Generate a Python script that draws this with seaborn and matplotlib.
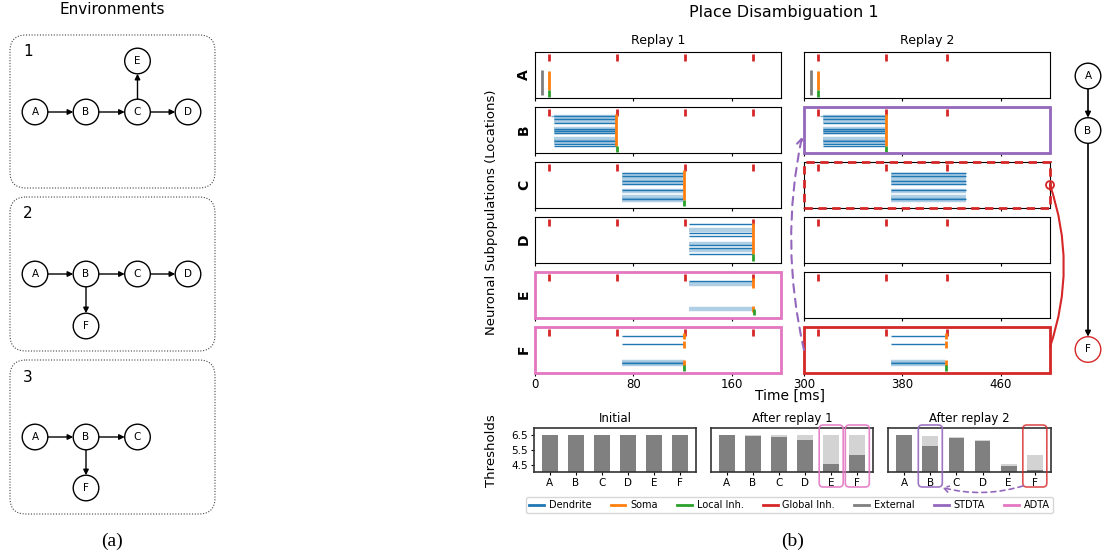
import matplotlib
matplotlib.use("Agg")
import matplotlib.pyplot as plt
import seaborn as sns
from matplotlib.lines import Line2D
from matplotlib.patches import Circle, FancyArrowPatch, FancyBboxPatch, Rectangle

# ---------------------------------------------------------------- data
locations = ["A", "B", "C", "D", "E", "F"]

# thresholds (bar charts)
thr_initial = [6.5, 6.5, 6.5, 6.5, 6.5, 6.5]
thr_after1 = [6.5, 6.42, 6.37, 6.16, 4.57, 5.17]
thr_after2 = [6.5, 5.77, 6.33, 6.13, 4.43, 4.12]
thr_ticks = [4.5, 5.5, 6.5]

# raster: time axes
replay_titles = ["Replay 1", "Replay 2"]
replay_xlim = [(0, 200), (300, 500)]
replay_xticks = [[0, 80, 160], [300, 380, 460]]

# global inhibition events [ms]
global_inh = [[11, 67, 122, 177], [311, 367, 416]]
# external input to A [ms]
external_t = [5.5, 306]

# dendrite rows (fraction of panel height): dark lines and faint bands
rows_dark = {
    "B": [0.81, 0.73, 0.66, 0.53, 0.485, 0.43, 0.26, 0.19, 0.155],
    "C": [0.76, 0.69, 0.58, 0.52, 0.38, 0.20],
    "D": [0.85, 0.65, 0.58, 0.38, 0.32, 0.18],
    "E": [0.79],
    "F": [0.79, 0.61, 0.20],
}
rows_light = {
    "B": [0.77, 0.70, 0.51, 0.46, 0.30, 0.23],
    "C": [0.72, 0.62, 0.55, 0.36, 0.23, 0.17],
    "D": [0.72, 0.40, 0.28],
    "E": [0.72, 0.19],
    "F": [0.22, 0.19],
}
# dendrite activity windows [ms]
dend_t = [
    {"B": (15.5, 66), "C": (71, 120.5), "D": (125, 177), "E": (125, 177), "F": (71, 121)},
    {"B": (315.5, 366), "C": (371, 432), "F": (371, 415)},
]
# soma spikes: time and vertical extents
soma_seg = {
    "A": [(0.17, 0.59)],
    "B": [(0.16, 0.84)],
    "C": [(0.18, 0.82)],
    "D": [(0.18, 0.87)],
    "E": [(0.65, 0.87), (0.12, 0.25)],
    "F": [(0.73, 0.85), (0.54, 0.68), (0.15, 0.28)],
}
soma_t = [
    {"A": 11, "B": 66, "C": 121, "D": 177, "E": 177.5, "F": 121},
    {"A": 311, "B": 366.4, "F": 415.5},
]
local_inh_y = {"A": (0.02, 0.17), "B": (0.02, 0.16), "C": (0.03, 0.18),
               "D": (0.03, 0.18), "E": (0.05, 0.18), "F": (0.03, 0.17)}

# ---------------------------------------------------------------- style
C_DEND, C_SOMA, C_LOC, C_GLOB = "#1f77b4", "#ff7f0e", "#2ca02c", "#d62728"
C_EXT, C_STD, C_AD = "#7f7f7f", "#9467bd", "#e377c2"

W, H = 1115, 557
fig = plt.figure(figsize=(W / 100, H / 100), dpi=100)


def px_axes(x0, y0, x1, y1):
    return fig.add_axes([x0 / W, 1 - y1 / H, (x1 - x0) / W, (y1 - y0) / H])


# ---------------------------------------------------------------- rasters
col_x0 = [535, 804]
col_w = 246
row_top = [52 + 54.9 * i for i in range(6)]
row_h = 46
frames = [
    {"E": (C_AD, "-"), "F": (C_AD, "-")},
    {"B": (C_STD, "-"), "C": (C_GLOB, (0, (3, 2))), "F": (C_GLOB, "-")},
]

for j in range(2):
    for i, loc in enumerate(locations):
        ax = px_axes(col_x0[j], row_top[i], col_x0[j] + col_w, row_top[i] + row_h)
        ax.set_xlim(*replay_xlim[j])
        ax.set_ylim(0, 1)
        ax.set_yticks([])
        ax.set_xticks(replay_xticks[j])
        ax.tick_params(axis="x", labelsize=8.5, length=2.5, pad=1.5)
        if i < 5:
            ax.tick_params(labelbottom=False)
        if i == 0:
            ax.set_title(replay_titles[j], fontsize=9, pad=6)
        if j == 0:
            ax.set_ylabel(loc, fontsize=10, fontweight="bold", labelpad=3)
        # global inhibition
        ax.vlines(global_inh[j], 0.80, 0.95, color=C_GLOB, lw=2)
        # external input
        if loc == "A":
            ax.vlines(external_t[j], 0.07, 0.60, color=C_EXT, lw=2)
        # dendrites
        if loc in dend_t[j]:
            t0, t1 = dend_t[j][loc]
            ax.hlines(rows_light[loc], t0, t1, color=C_DEND, lw=3.2, alpha=0.35)
            ax.hlines(rows_dark[loc], t0, t1, color=C_DEND, lw=1.0)
            if loc == "B":
                ax.hlines([rows_dark[loc][0]], t0 - 2.5, t0, color=C_DEND, lw=1.0, alpha=0.6)
        # soma & local inhibition
        if loc in soma_t[j]:
            ts = soma_t[j][loc]
            for y0, y1 in soma_seg[loc]:
                ax.vlines(ts, y0, y1, color=C_SOMA, lw=2)
            ax.vlines(ts + 0.3, *local_inh_y[loc], color=C_LOC, lw=2)
        if loc in frames[j]:
            col, ls = frames[j][loc]
            ax.add_patch(Rectangle((0, 0), 1, 1, transform=ax.transAxes, fill=False,
                                   ec=col, lw=2, ls=ls, clip_on=False, zorder=6))

# ---------------------------------------------------------------- thresholds
bar_x0 = [534, 711, 888.5]
bar_w = 162
bar_y0, bar_y1 = 427.7, 472
bar_titles = ["Initial", "After replay 1", "After replay 2"]
bar_prev = [thr_initial, thr_initial, thr_after1]
bar_curr = [thr_initial, thr_after1, thr_after2]
bar_xlim = (-0.6, 5.6)
for k in range(3):
    ax = px_axes(bar_x0[k], bar_y0, bar_x0[k] + bar_w, bar_y1)
    sns.barplot(x=locations, y=bar_prev[k], color="#d3d3d3", width=0.6, saturation=1,
                linewidth=0, errorbar=None, ax=ax)
    sns.barplot(x=locations, y=bar_curr[k], color="#808080", width=0.6, saturation=1,
                linewidth=0, errorbar=None, ax=ax)
    ax.set_xlim(*bar_xlim)
    ax.set_ylim(4, 7)
    ax.set_xlabel("")
    ax.set_ylabel("")
    ax.tick_params(axis="x", labelsize=7.5, length=2.5, pad=2)
    if k == 0:
        ax.set_yticks(thr_ticks)
        ax.set_yticklabels([f"{v:.1f}" for v in thr_ticks])
        ax.tick_params(axis="y", labelsize=7.5, length=2.5, pad=2)
    else:
        ax.set_yticks([])
    for s in ax.spines.values():
        s.set_linewidth(1.2)
        s.set_color("#333333")
    ax.set_title(bar_titles[k], fontsize=8.5, pad=4)

# ---------------------------------------------------------------- legend
legend_labels = ["Dendrite", "Soma", "Local Inh.", "Global Inh.", "External", "STDTA", "ADTA"]
legend_colors = [C_DEND, C_SOMA, C_LOC, C_GLOB, C_EXT, C_STD, C_AD]
handles = [Line2D([], [], color=c, lw=2) for c in legend_colors]
fig.legend(handles, legend_labels, loc="center", bbox_to_anchor=(789.5 / W, 1 - 505 / H),
           ncol=7, fontsize=7, handlelength=1.5, handletextpad=0.5, columnspacing=2.0,
           borderpad=0.3, frameon=True)

# ---------------------------------------------------------------- texts
fig.text(112.5 / W, 1 - 10 / H, "Environments", fontsize=11, ha="center", va="center")
fig.text(783.5 / W, 1 - 13 / H, "Place Disambiguation 1", fontsize=11.5, ha="center", va="center")
fig.text(491 / W, 1 - 212 / H, "Neuronal Subpopulations (Locations)", fontsize=9.5,
         rotation=90, ha="center", va="center")
fig.text(491 / W, 1 - 451 / H, "Thresholds", fontsize=9.5, rotation=90, ha="center", va="center")
fig.text(790 / W, 1 - 396 / H, "Time [ms]", fontsize=10, ha="center", va="center")
fig.text(112 / W, 1 - 541 / H, "(a)", fontsize=14, family="Liberation Serif", ha="center", va="center")
fig.text(793 / W, 1 - 541 / H, "(b)", fontsize=14, family="Liberation Serif", ha="center", va="center")

# ---------------------------------------------------------------- overlay (diagrams & annotations)
ov = fig.add_axes([0, 0, 1, 1], zorder=20)
ov.set_xlim(0, W)
ov.set_ylim(H, 0)
ov.axis("off")
ov.patch.set_alpha(0)

R = 12.8


def node(x, y, label, ec="k"):
    ov.add_patch(Circle((x, y), R, fc="white", ec=ec, lw=1, zorder=3))
    ov.text(x, y, label, fontsize=7.5, ha="center", va="center", zorder=4)


def edge(p, q, lw=1, ms=8):
    dx, dy = q[0] - p[0], q[1] - p[1]
    d = (dx ** 2 + dy ** 2) ** 0.5
    ux, uy = dx / d, dy / d
    a = (p[0] + ux * R, p[1] + uy * R)
    b = (q[0] - ux * R, q[1] - uy * R)
    ov.add_patch(FancyArrowPatch(a, b, arrowstyle="-|>", mutation_scale=ms, lw=lw,
                                 color="k", shrinkA=0, shrinkB=0, zorder=2))


environments = [
    dict(box=(10, 35, 215, 188), num=(28, 52), label="1",
         nodes={"A": (35, 112), "B": (86, 112), "C": (137.5, 112), "D": (188, 112), "E": (137.5, 61)},
         edges=[("A", "B"), ("B", "C"), ("C", "D"), ("C", "E")]),
    dict(box=(10, 197, 215, 351), num=(28, 214), label="2",
         nodes={"A": (35, 274), "B": (86, 274), "C": (137.5, 274), "D": (188, 274), "F": (86, 326)},
         edges=[("A", "B"), ("B", "C"), ("C", "D"), ("B", "F")]),
    dict(box=(10, 360, 215, 514), num=(28, 377), label="3",
         nodes={"A": (35, 437), "B": (86, 437), "C": (137.5, 437), "F": (86, 488)},
         edges=[("A", "B"), ("B", "C"), ("B", "F")]),
]
for env in environments:
    x0, y0, x1, y1 = env["box"]
    ov.add_patch(FancyBboxPatch((x0, y0), x1 - x0, y1 - y0,
                                boxstyle="round,pad=0,rounding_size=16",
                                fc="none", ec="#444444", lw=0.8, ls=(0, (1, 1.5))))
    ov.text(*env["num"], env["label"], fontsize=11, ha="center", va="center")
    for p, q in env["edges"]:
        edge(env["nodes"][p], env["nodes"][q])
    for name, (x, y) in env["nodes"].items():
        node(x, y, name)

# right-hand path graph
path_nodes = {"A": (1088, 76), "B": (1088, 130.5), "F": (1088, 349.5)}
edge(path_nodes["A"], path_nodes["B"], lw=1.2)
edge(path_nodes["B"], path_nodes["F"], lw=1.2)
node(*path_nodes["A"], "A")
node(*path_nodes["B"], "B")
node(*path_nodes["F"], "F", ec=C_GLOB)

# red link: C (replay 2) -> F (replay 2)
ov.add_patch(FancyArrowPatch((1050, 185), (1050, 347), arrowstyle="-", lw=1.5, color=C_GLOB,
                             connectionstyle="arc3,rad=-0.17", shrinkA=0, shrinkB=0))
ov.add_patch(Circle((1050, 185), 4, fc="none", ec=C_GLOB, lw=1.3))

# purple dashed: F (replay 2) -> B (replay 2)
ov.add_patch(FancyArrowPatch((804, 350), (802, 137), arrowstyle="->,head_length=4,head_width=2.5",
                             lw=1.5, color=C_STD, ls=(0, (4, 3)),
                             connectionstyle="arc3,rad=-0.11", shrinkA=0, shrinkB=0))

# highlight boxes around threshold bars
bar_highlights = [(1, 4, C_AD), (1, 5, C_AD), (2, 1, C_STD), (2, 5, C_GLOB)]
for k, idx, col in bar_highlights:
    cx = bar_x0[k] + (idx - bar_xlim[0]) / (bar_xlim[1] - bar_xlim[0]) * bar_w
    ov.add_patch(FancyBboxPatch((cx - 12, 425), 24, 62, boxstyle="round,pad=0,rounding_size=4",
                                fc="none", ec=col, lw=1.2, alpha=0.9 if col != C_GLOB else 0.8))

# purple dashed: F threshold -> B threshold
cxF = bar_x0[2] + (5 - bar_xlim[0]) / (bar_xlim[1] - bar_xlim[0]) * bar_w
cxB = bar_x0[2] + (1 - bar_xlim[0]) / (bar_xlim[1] - bar_xlim[0]) * bar_w
ov.add_patch(FancyArrowPatch((cxF - 12, 486), (cxB + 12, 487.5),
                             arrowstyle="->,head_length=3.5,head_width=2.2",
                             lw=1.2, color=C_STD, ls=(0, (3, 2.5)),
                             connectionstyle="arc3,rad=-0.14", shrinkA=0, shrinkB=0))

fig.savefig("out.png", dpi=100)
